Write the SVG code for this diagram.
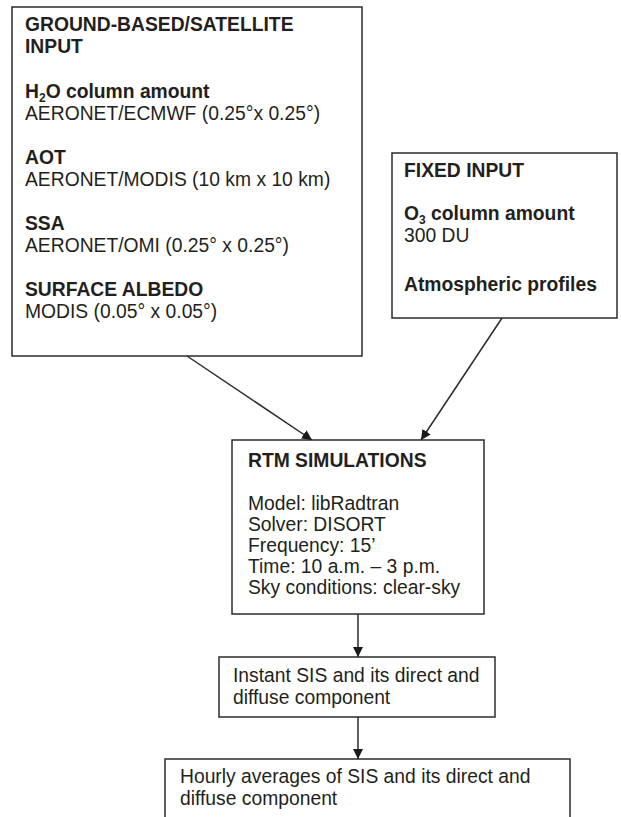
<svg xmlns="http://www.w3.org/2000/svg" width="621" height="817" viewBox="0 0 621 817">
<style>
  .box { fill: #ffffff; stroke: #2b2b2b; stroke-width: 1.5; }
  text { font-family: "Liberation Sans", Arial, sans-serif; font-size: 19.3px; fill: #231f20; }
  .b { font-weight: bold; }
  .edge { stroke: #2b2b2b; stroke-width: 1.5; fill: none; }
</style>
<defs>
  <marker id="arrow" viewBox="0 0 10 10" refX="10" refY="5" markerWidth="10" markerHeight="10" markerUnits="userSpaceOnUse" orient="auto">
    <path d="M0,0 L10,5 L0,10 z" fill="#1a1a1a"/>
  </marker>
</defs>
<rect width="621" height="817" fill="#ffffff"/>
<g id="ground-input">
  <rect class="box" x="12" y="7" width="350" height="349"/>
  <text class="b" x="25" y="31">GROUND-BASED/SATELLITE</text>
  <text class="b" x="25" y="53">INPUT</text>
  <text class="b" x="25" y="98">H<tspan font-size="12" dy="4">2</tspan><tspan dy="-4">O column amount</tspan></text>
  <text x="25" y="120">AERONET/ECMWF (0.25°x 0.25°)</text>
  <text class="b" x="25" y="164">AOT</text>
  <text x="25" y="186">AERONET/MODIS (10 km x 10 km)</text>
  <text class="b" x="25" y="230">SSA</text>
  <text x="25" y="252">AERONET/OMI (0.25° x 0.25°)</text>
  <text class="b" x="25" y="296">SURFACE ALBEDO</text>
  <text x="25" y="318">MODIS (0.05° x 0.05°)</text>
</g>
<g id="fixed-input">
  <rect class="box" x="392" y="153" width="225" height="165"/>
  <text class="b" x="404" y="177">FIXED INPUT</text>
  <text class="b" x="404" y="220">O<tspan font-size="12" dy="4">3</tspan><tspan dy="-4"> column amount</tspan></text>
  <text x="404" y="242">300 DU</text>
  <text class="b" x="404" y="291">Atmospheric profiles</text>
</g>
<g id="rtm">
  <rect class="box" x="232" y="440" width="252" height="174"/>
  <text class="b" x="248" y="467">RTM SIMULATIONS</text>
  <text x="248" y="510">Model: libRadtran</text>
  <text x="248" y="531">Solver: DISORT</text>
  <text x="248" y="552">Frequency: 15’</text>
  <text x="248" y="573">Time: 10 a.m. – 3 p.m.</text>
  <text x="248" y="594">Sky conditions: clear-sky</text>
</g>
<g id="instant">
  <rect class="box" x="219" y="657" width="276" height="60"/>
  <text x="233" y="682">Instant SIS and its direct and</text>
  <text x="233" y="704">diffuse component</text>
</g>
<g id="hourly">
  <rect class="box" x="165" y="759" width="405" height="70"/>
  <text x="180" y="783">Hourly averages of SIS and its direct and</text>
  <text x="180" y="805">diffuse component</text>
</g>
<g id="connectors">
  <line class="edge" x1="187" y1="356" x2="312" y2="440" marker-end="url(#arrow)"/>
  <line class="edge" x1="502" y1="318" x2="421" y2="440" marker-end="url(#arrow)"/>
  <line class="edge" x1="358" y1="614" x2="358" y2="657" marker-end="url(#arrow)"/>
  <line class="edge" x1="358" y1="717" x2="358" y2="759" marker-end="url(#arrow)"/>
</g>
</svg>
